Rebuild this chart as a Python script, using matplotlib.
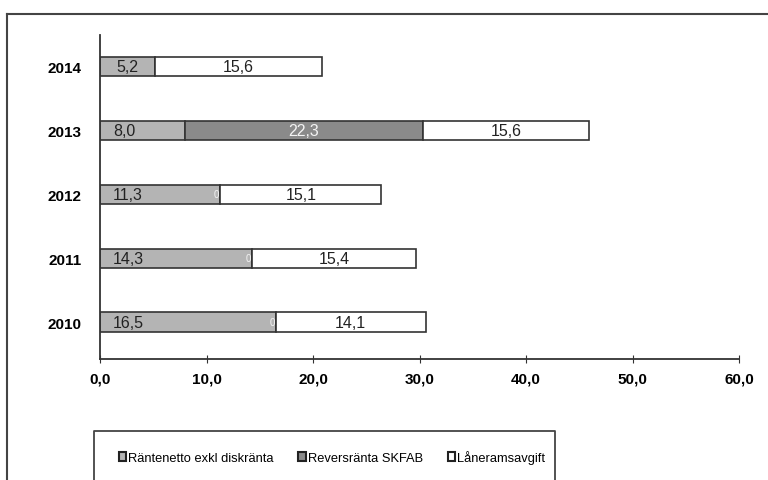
import numpy as np
import matplotlib
matplotlib.use("Agg")
import matplotlib.pyplot as plt
from matplotlib.patches import Patch

years = ["2010", "2011", "2012", "2013", "2014"]
series_names = ["Räntenetto exkl diskränta", "Reversränta SKFAB", "Låneramsavgift"]
rantenetto = [16.5, 14.3, 11.3, 8.0, 5.2]
reversranta = [0.0, 0.0, 0.0, 22.3, np.nan]
laneram = [14.1, 15.4, 15.1, 15.6, 15.6]
x_ticks = [0, 10, 20, 30, 40, 50, 60]

colors = ["#b4b4b4", "#8a8a8a", "#ffffff"]
edge = "#333333"

plt.rcParams["font.family"] = ["Liberation Sans", "DejaVu Sans"]

fig = plt.figure(figsize=(7.68, 4.81), dpi=100)
ax = fig.add_axes([100 / 768, 1 - 360 / 481, 639 / 768, 324 / 481])

y = np.arange(len(years))
h = 0.3
left = np.zeros(len(years))
for vals, col in zip([rantenetto, reversranta, laneram], colors):
    v = np.nan_to_num(np.array(vals, dtype=float))
    ax.barh(y, v, left=left, height=h, color=col, edgecolor=edge, linewidth=1.2)
    left = left + v

# data labels
fmt = lambda v: f"{v:.1f}".replace(".", ",")
for i in range(len(years)):
    a, b, c = rantenetto[i], reversranta[i], laneram[i]
    if a < 7:
        ax.text(a / 2, y[i], fmt(a), ha="center", va="center", fontsize=11.5, color="#222222")
    else:
        ax.text(1.2, y[i], fmt(a), ha="left", va="center", fontsize=11.5, color="#222222")
    if not np.isnan(b):
        if b == 0:
            ax.text(a - 0.35, y[i], "0", ha="center", va="center", fontsize=7, color="#f4f4f4")
        else:
            ax.text(a + b / 2, y[i], fmt(b), ha="center", va="center", fontsize=11.5, color="#f4f4f4")
        bb = b
    else:
        bb = 0
    ax.text(a + bb + c / 2, y[i], fmt(c), ha="center", va="center", fontsize=11.5, color="#222222")

ax.set_xlim(0, 60)
ax.set_ylim(-0.58, 4.5)
ax.set_xticks(x_ticks)
ax.set_xticklabels([fmt(t) for t in x_ticks], fontweight="bold", fontsize=11)
ax.set_yticks(y)
ax.set_yticklabels(years, fontweight="bold", fontsize=11)
ax.tick_params(axis="x", direction="inout", length=6, color=edge, pad=6)
ax.tick_params(axis="y", length=0, pad=13)
for s in ["top", "right"]:
    ax.spines[s].set_visible(False)
for s in ["left", "bottom"]:
    ax.spines[s].set_color(edge)
    ax.spines[s].set_linewidth(1.3)

# outer frame (cut off by page edge)
fig.add_artist(plt.Line2D([7 / 768, 7 / 768], [0, 1 - 15 / 481], transform=fig.transFigure, color="#444444", lw=1.5))
fig.add_artist(plt.Line2D([7 / 768, 1], [1 - 15 / 481, 1 - 15 / 481], transform=fig.transFigure, color="#444444", lw=1.5))

# legend box (continues below the image)
lx0, lx1, ly = 94 / 768, 555 / 768, 1 - 432 / 481
fig.add_artist(plt.Line2D([lx0, lx0, lx1, lx1], [0, ly, ly, 0], transform=fig.transFigure, color="#444444", lw=1.3))
handles = [Patch(facecolor=c, edgecolor="#222222", linewidth=1.5) for c in colors]
fig.legend(handles, series_names, loc="center", bbox_to_anchor=(332 / 768, 1 - 458 / 481),
           ncol=3, frameon=False, fontsize=9.3, handlelength=0.6, handleheight=0.6,
           handletextpad=0.15, columnspacing=1.9)

fig.savefig("out.png", dpi=100)
